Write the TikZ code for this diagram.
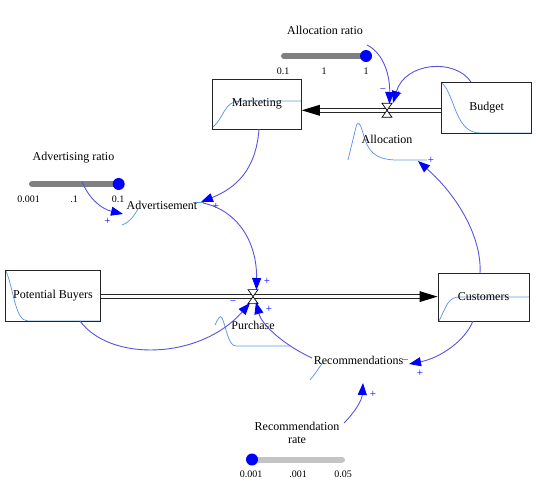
\documentclass[tikz,border=0pt]{standalone}
\usepackage{fontspec}
\setmainfont{Liberation Serif}
\usetikzlibrary{arrows.meta}
\definecolor{linkc}{RGB}{85,85,225}
\definecolor{sparkc}{RGB}{95,150,230}
\definecolor{bardark}{RGB}{128,128,128}
\definecolor{barlight}{RGB}{196,196,196}
\begin{document}
\begin{tikzpicture}[x=1pt,y=-1pt,
  lbl/.style={font=\fontsize{12}{14}\selectfont, inner sep=0pt},
  ticklbl/.style={font=\fontsize{10}{12}\selectfont, inner sep=0pt},
  sign/.style={font=\fontsize{11}{12}\selectfont, text=blue, inner sep=0pt},
  stock/.style={draw=black!85, line width=0.9pt, inner sep=0pt, font=\fontsize{12}{14}\selectfont},
  spark/.style={draw=sparkc, line width=0.75pt},
  link/.style={draw=linkc, line width=0.9pt, -{Triangle[length=12pt,width=9pt,color=blue]}},
  pipe/.style={draw=black!85, double=white, double distance=2.6pt, line width=0.9pt},
  valve/.style={draw=black, fill=white, line width=0.7pt},
  sbar/.style={line width=6pt, line cap=round},
  knob/.style={circle, fill=blue, minimum size=12pt, inner sep=0pt}
]
\useasboundingbox (0,0) rectangle (536,488);

% ---------- sparklines (behind) ----------
\draw[spark] (213,127) .. controls (224,118) and (224,101) .. (240,101) -- (301,101);
\draw[spark] (442,83) .. controls (455,95) and (455,133) .. (480,133) -- (532,133);
\draw[spark] (6,271) .. controls (14,290) and (15,321) .. (28,321) -- (100,321);
\draw[spark] (439,321) .. controls (447,305) and (448,297) .. (460,297) -- (529,297);
\draw[spark] (348,160) -- (356,127) .. controls (357.5,121) and (360,122) .. (363,133)
  .. controls (368,152) and (375,159) .. (395,160) -- (427,160);
\draw[spark] (122,225) .. controls (130,222) and (134,216) .. (138,209);
\draw[spark] (193,202.5) -- (204,202.5);
\draw[spark] (215,325) .. controls (218,319) and (220,314) .. (222,318)
  .. controls (226,326) and (228,346) .. (236,346) -- (290,346);
\draw[spark] (310,380) .. controls (315,374) and (319,368) .. (323,362);
\draw[spark] (402,359) -- (408,359);

% ---------- stocks ----------
\node[stock, minimum width=89pt, minimum height=50pt] (mkt) at (256.8,104) {Marketing};
\node[stock, minimum width=90pt, minimum height=51pt] (budget) at (486.7,108) {Budget};
\node[stock, minimum width=95pt, minimum height=51pt] (pb) at (53,295.5) {Potential Buyers};
\node[stock, minimum width=91pt, minimum height=48pt] (cust) at (483.5,297) {Customers};

% ---------- flows ----------
\coordinate (vA) at (387,110.3);
\coordinate (vB) at (253,296.6);
\coordinate (mktin) at (vA -| mkt.east);
\coordinate (custin) at (vB -| cust.west);
\draw[pipe, shorten >=15pt] (vA -| budget.west) -- (mktin);
\draw[pipe, shorten >=15pt] (vB -| pb.east) -- (custin);
\fill[black] (mktin) -- ++(18,-5.5) -- ++(0,11) -- cycle;
\fill[black] (custin) -- ++(-18,-5.5) -- ++(0,11) -- cycle;
\filldraw[valve] ([shift={(-5,-7)}]vA) -- ([shift={(5,-7)}]vA) -- ([shift={(-5,7)}]vA) -- ([shift={(5,7)}]vA) -- cycle;
\filldraw[valve] ([shift={(-5,-7)}]vB) -- ([shift={(5,-7)}]vB) -- ([shift={(-5,7)}]vB) -- ([shift={(5,7)}]vB) -- cycle;

% ---------- variable labels ----------
\node[lbl] (alloc) at (387,139) {Allocation};
\node[lbl] (advert) at (162,205.5) {Advertisement};
\node[lbl] (purch) at (253,325) {Purchase};
\node[lbl] (recom) at (358.5,360) {Recommendations};

% ---------- sliders ----------
\node[lbl] (arlbl) at (325,30) {Allocation ratio};
\coordinate (arL) at (284,56);
\coordinate (arR) at (366,56);
\draw[sbar, bardark] (arL) -- (arR);
\node[knob] (ardot) at (arR) {};
\node[ticklbl] (ar1) at (283,71) {0.1};
\node[ticklbl] (ar2) at (324,71) {1};
\node[ticklbl] (ar3) at (366,71) {1};

\node[lbl] (adlbl) at (73.5,158) {Advertising ratio};
\coordinate (adL) at (32,184);
\coordinate (adR) at (118.7,184);
\draw[sbar, bardark] (adL) -- (adR);
\node[knob] (addot) at (adR) {};
\node[ticklbl] (ad1) at (28.6,199) {0.001};
\node[ticklbl] (ad2) at (74,199) {.1};
\node[ticklbl] (ad3) at (118,199) {0.1};

\node[lbl, align=center, font=\fontsize{12}{13.5}\selectfont] (rrlbl) at (297,433) {Recommendation\\rate};
\coordinate (rrL) at (252,459.5);
\coordinate (rrR) at (342,459.5);
\draw[sbar, barlight] (rrL) -- (rrR);
\node[knob] (rrdot) at (rrL) {};
\node[ticklbl] (rr1) at (251,474) {0.001};
\node[ticklbl] (rr2) at (298,474) {.001};
\node[ticklbl] (rr3) at (343,474) {0.05};

% ---------- link endpoints ----------
\coordinate (arS) at (367,45);
\coordinate (vAt1) at (389.5,104);
\coordinate (vAt2) at (393,103);
\coordinate (budS) at (471,82);
\coordinate (mktS) at (259,129);
\coordinate (advE) at (201,202);
\coordinate (adS) at (82,182);
\coordinate (advW) at (123,214);
\coordinate (advS) at (203,203);
\coordinate (vBt) at (256.5,290);
\coordinate (pbS) at (80,321);
\coordinate (vBl) at (250,303);
\coordinate (recS) at (312,358);
\coordinate (vBr) at (256,302);
\coordinate (custS) at (473,321);
\coordinate (recE) at (409,364);
\coordinate (custN) at (480,273);
\coordinate (allocE) at (418,161);
\coordinate (rrS) at (344,423);
\coordinate (recB) at (363,383);

% ---------- causal links ----------
\draw[link] (arS) .. controls (385,54) and (390,78) .. (vAt1);
\draw[link] (budS) .. controls (455,58) and (405,62) .. (vAt2);
\draw[link] (mktS) .. controls (256,170) and (236,188) .. (advE);
\draw[link] (adS) .. controls (90,200) and (102,209) .. (advW);
\draw[link] (advS) .. controls (236,210) and (257,240) .. (vBt);
\draw[link] (pbS) .. controls (110,362) and (200,360) .. (vBl);
\draw[link] (recS) .. controls (286,346) and (262,326) .. (vBr);
\draw[link] (custS) .. controls (465,341) and (440,358) .. (recE);
\draw[link] (custN) .. controls (482,238) and (458,196) .. (allocE);
\draw[link] (rrS) .. controls (355,412) and (362,400) .. (recB);

% ---------- polarity signs ----------
\node[sign] (s1) at (383,90.5) {−};
\node[sign] (s2) at (399,94) {+};
\node[sign] (s3) at (431,160) {+};
\node[sign] (s4) at (107.5,221) {+};
\node[sign] (s5) at (216,206) {+};
\node[sign] (s6) at (267,281) {+};
\node[sign] (s7) at (233,303) {−};
\node[sign] (s8) at (269,309) {+};
\node[sign] (s9) at (420,373) {+};
\node[sign] (s10) at (373,394) {+};
\end{tikzpicture}
\end{document}
